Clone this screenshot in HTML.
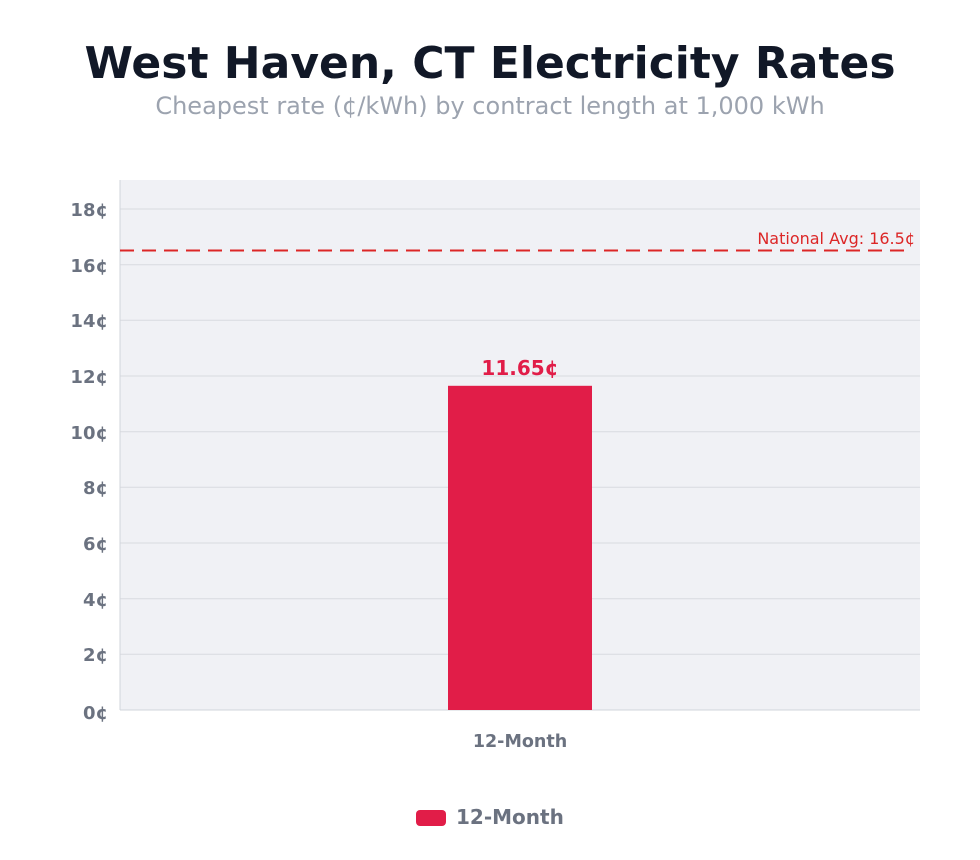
<!DOCTYPE html>
<html><head><meta charset="utf-8"><style>
body{margin:0;background:#fff;}
svg{display:block;font-family:"DejaVu Sans","Liberation Sans",sans-serif;}
</style></head><body>
<svg width="980" height="860" viewBox="0 0 980 860" xmlns="http://www.w3.org/2000/svg">
<rect width="980" height="860" fill="#fff"/>
<text x="490" y="78" text-anchor="middle" font-size="44" font-weight="bold" fill="#111827">West Haven, CT Electricity Rates</text>
<text x="490" y="114" text-anchor="middle" font-size="24" fill="#9ca3af">Cheapest rate (¢/kWh) by contract length at 1,000 kWh</text>
<rect x="120" y="180" width="800" height="530" fill="#f0f1f5"/>
<g stroke="#d8dae0" stroke-width="1">
<line x1="120" x2="920" y1="209" y2="209"/>
<line x1="120" x2="920" y1="264.7" y2="264.7"/>
<line x1="120" x2="920" y1="320.3" y2="320.3"/>
<line x1="120" x2="920" y1="376" y2="376"/>
<line x1="120" x2="920" y1="431.7" y2="431.7"/>
<line x1="120" x2="920" y1="487.3" y2="487.3"/>
<line x1="120" x2="920" y1="543" y2="543"/>
<line x1="120" x2="920" y1="598.7" y2="598.7"/>
<line x1="120" x2="920" y1="654.3" y2="654.3"/>
</g>
<line x1="120" x2="120" y1="180" y2="710" stroke="#d1d5db"/>
<line x1="120" x2="920" y1="710" y2="710" stroke="#d1d5db"/>
<g font-size="18" font-weight="bold" fill="#6b7280" text-anchor="end">
<text x="108" y="216">18¢</text>
<text x="108" y="272">16¢</text>
<text x="108" y="327">14¢</text>
<text x="108" y="383">12¢</text>
<text x="108" y="439">10¢</text>
<text x="108" y="494">8¢</text>
<text x="108" y="550">6¢</text>
<text x="108" y="606">4¢</text>
<text x="108" y="661">2¢</text>
<text x="108" y="719">0¢</text>
</g>
<rect x="448" y="385.8" width="144" height="324.2" fill="#e11d48"/>
<text x="520" y="375" text-anchor="middle" font-size="20" font-weight="bold" fill="#e11d48">11.65¢</text>
<line x1="120" x2="912" y1="250.5" y2="250.5" stroke="#dc2626" stroke-width="2" stroke-dasharray="14,8"/>
<text x="915" y="244" text-anchor="end" font-size="16" fill="#dc2626">National Avg: 16.5¢</text>
<text x="520" y="747" text-anchor="middle" font-size="17.5" font-weight="bold" fill="#6b7280">12-Month</text>
<rect x="416" y="810" width="30" height="16" rx="4" fill="#e11d48"/>
<text x="456" y="824" font-size="20" font-weight="bold" fill="#6b7280">12-Month</text>
</svg>
</body></html>
